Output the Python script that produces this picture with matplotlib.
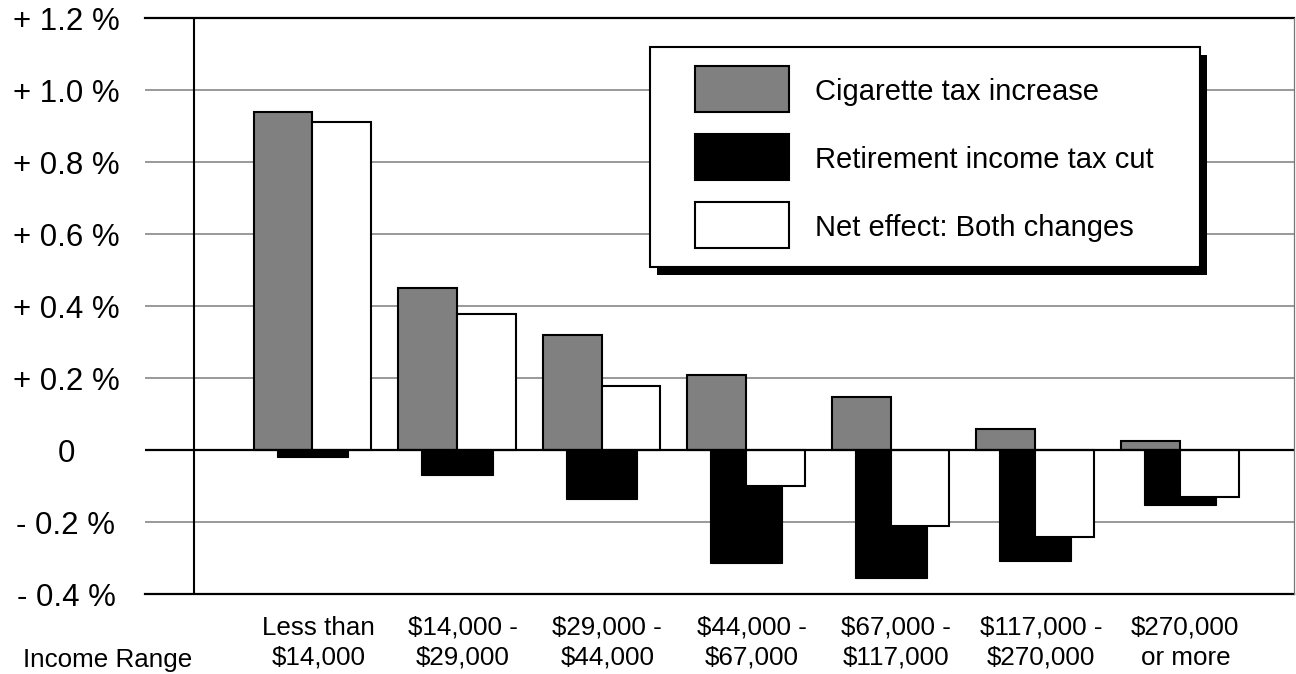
import numpy as np
import matplotlib.pyplot as plt
from matplotlib.patches import Rectangle

OUTPUT_FIG = "out.png"

INCOME_LABELS = [
    "Less than\n$14,000",
    "$14,000 -\n$29,000",
    "$29,000 -\n$44,000",
    "$44,000 -\n$67,000",
    "$67,000 -\n$117,000",
    "$117,000 -\n$270,000",
    "$270,000\nor more",
]
CIGARETTE = [0.940, 0.450, 0.320, 0.208, 0.147, 0.057, 0.025]
RETIREMENT = [-0.020, -0.069, -0.136, -0.313, -0.355, -0.308, -0.153]
NET_EFFECT = [0.910, 0.378, 0.178, -0.100, -0.210, -0.243, -0.131]

SERIES_NAMES = ["Cigarette tax increase", "Retirement income tax cut", "Net effect: Both changes"]
SERIES_COLORS = ["#808080", "#000000", "#ffffff"]

Y_TICKS = [1.2, 1.0, 0.8, 0.6, 0.4, 0.2, 0.0, -0.2, -0.4]
Y_TICK_LABELS = ["+ 1.2 %", "+ 1.0 %", "+ 0.8 %", "+ 0.6 %", "+ 0.4 %", "+ 0.2 %", "0", "- 0.2 %", "- 0.4 %"]

W, H = 1296, 674
FONT = "Liberation Sans"


def px(x, y):
    # pixel position (top-left origin) -> figure fraction
    return x / W, 1 - y / H


def main():
    fig = plt.figure(figsize=(W / 100, H / 100), dpi=100)
    ax_l, ax_r, ax_t, ax_b = 145, 1294, 18, 594
    ax = fig.add_axes([ax_l / W, 1 - ax_b / H, (ax_r - ax_l) / W, (ax_b - ax_t) / H])

    x = np.arange(len(INCOME_LABELS))
    ax.set_xlim(-1.159, 6.792)
    ax.set_ylim(-0.4, 1.2)

    for s in ax.spines.values():
        s.set_visible(False)
    ax.set_xticks([])
    ax.set_yticks([])

    # grid lines (black at top, zero and bottom)
    for v in Y_TICKS:
        if v in (1.2, 0.0, -0.4):
            continue
        ax.axhline(v, color="#888888", lw=1.2, zorder=1)
    ax.axhline(1.2, color="black", lw=1.6, zorder=5, clip_on=False)
    ax.axhline(-0.4, color="black", lw=1.6, zorder=5, clip_on=False)
    ax.axvline(-0.820, color="black", lw=1.5, zorder=5)
    ax.axvline(6.792, color="#777777", lw=0.9, zorder=5, clip_on=False)

    bw = 0.408
    ax.bar(x, RETIREMENT, width=0.498, color=SERIES_COLORS[1], edgecolor="black", lw=0.8, zorder=2)
    ax.bar(x - 0.204, CIGARETTE, width=bw, color=SERIES_COLORS[0], edgecolor="black", lw=1.5, zorder=3)
    ax.bar(x + 0.204, NET_EFFECT, width=bw, color=SERIES_COLORS[2], edgecolor="black", lw=1.5, zorder=3)
    ax.axhline(0.0, color="black", lw=1.6, zorder=4)

    # y tick labels, centred in the left margin
    ytr = ax.get_yaxis_transform()
    for v, lab in zip(Y_TICKS, Y_TICK_LABELS):
        ax.text(-0.0688, v, lab, transform=ytr, ha="center", va="center_baseline",
                fontsize=22.5, family=FONT, clip_on=False)

    # x labels
    xtr = ax.get_xaxis_transform()
    for xi, lab in zip(x, INCOME_LABELS):
        ax.text(xi + 0.04, -0.038, lab, transform=xtr, ha="center", va="top",
                fontsize=18.7, family=FONT, linespacing=1.32, clip_on=False)
    fig.text(*px(108, 667), "Income Range", ha="center", va="baseline", fontsize=18.7, family=FONT)

    # legend with hard shadow
    lx0, ly0, lx1, ly1 = 650, 47, 1200, 267
    sx, sy = px(lx0 + 7, ly1 + 8)
    fig.patches.append(Rectangle((sx, sy), (lx1 - lx0) / W, (ly1 - ly0) / H,
                                 transform=fig.transFigure, facecolor="black", edgecolor="none", zorder=10))
    bx, by = px(lx0, ly1)
    fig.patches.append(Rectangle((bx, by), (lx1 - lx0) / W, (ly1 - ly0) / H,
                                 transform=fig.transFigure, facecolor="white", edgecolor="black",
                                 lw=1.5, zorder=11))
    for i, (name, col) in enumerate(zip(SERIES_NAMES, SERIES_COLORS)):
        top = 66 + i * 68
        hx, hy = px(695, top + 46)
        fig.patches.append(Rectangle((hx, hy), 94 / W, 46 / H, transform=fig.transFigure,
                                     facecolor=col, edgecolor="black", lw=1.5, zorder=12))
        fig.text(*px(815, top + 23), name, ha="left", va="center_baseline",
                 fontsize=21, family=FONT, zorder=13)

    fig.savefig(OUTPUT_FIG, dpi=100)


if __name__ == "__main__":
    main()
